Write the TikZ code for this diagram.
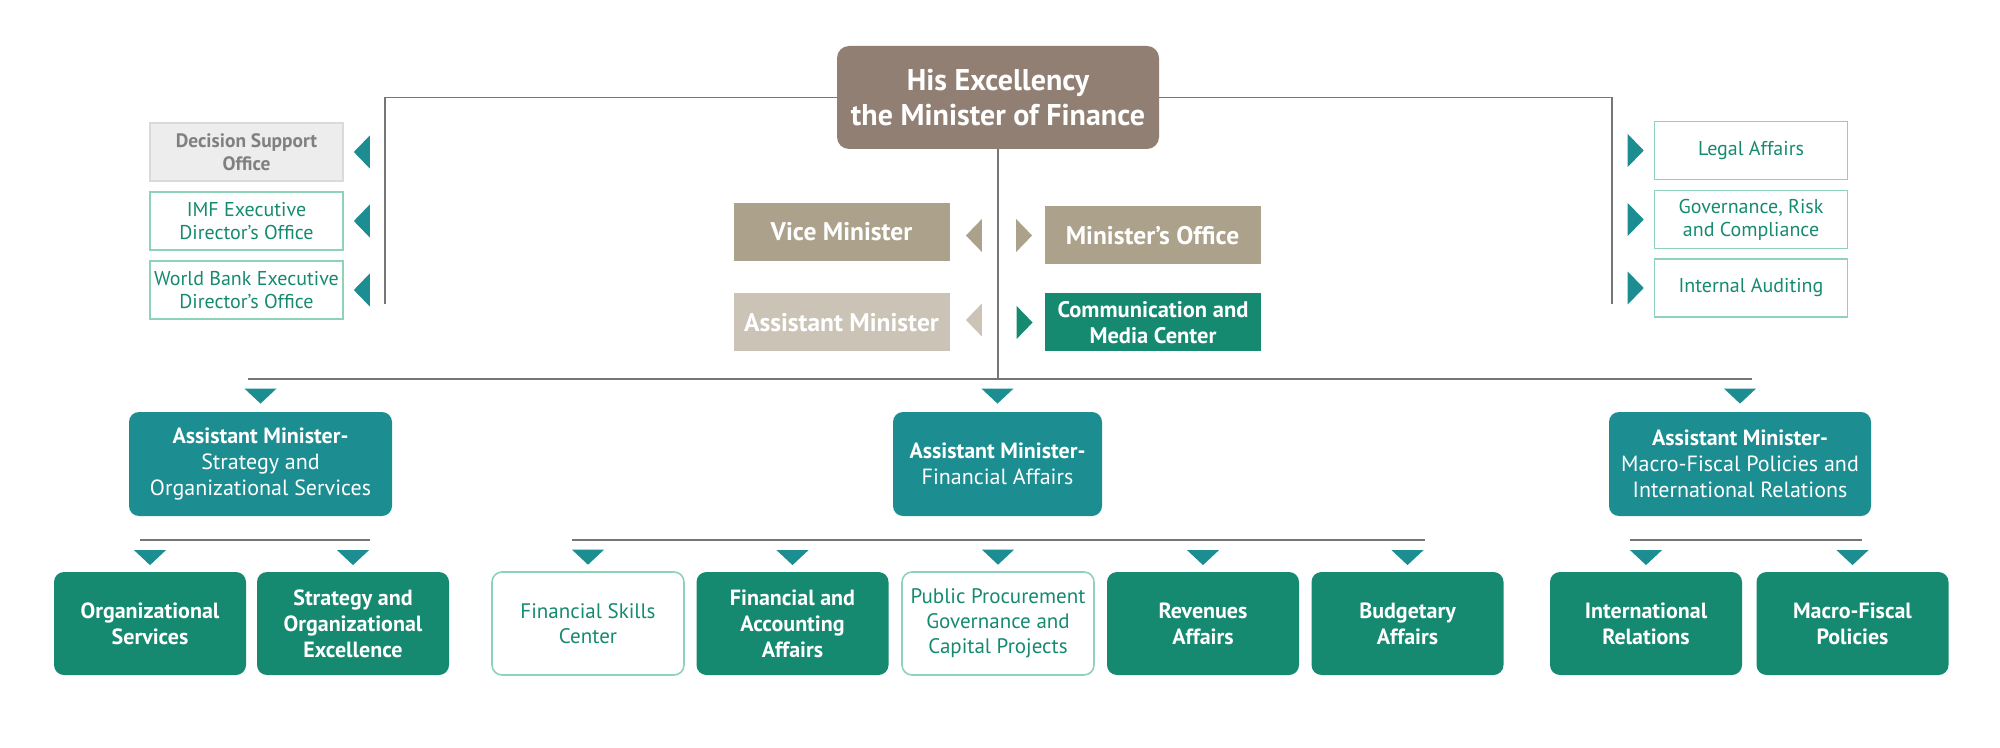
\documentclass[tikz,border=0pt]{standalone}
\usepackage{fontspec}
\setmainfont{PT Sans}
\usetikzlibrary{positioning,calc}
\definecolor{MOF-BROWN}{RGB}{146,127,115}
\definecolor{MOF-TAUPE}{RGB}{172,161,138}
\definecolor{MOF-SAND}{RGB}{203,195,181}
\definecolor{MOF-GREEN}{RGB}{22,138,112}
\definecolor{MOF-TEAL}{RGB}{28,142,146}
\definecolor{MOF-MINT}{RGB}{142,211,184}
\definecolor{MOF-GREY}{RGB}{237,237,237}
\definecolor{MOF-LINE}{RGB}{118,118,118}

\begin{document}
\begin{tikzpicture}[x=0.5pt,y=-0.5pt,
  every node/.style={inner sep=0pt, align=center},
  link/.style={draw=MOF-LINE, line width=0.9pt},
  boss/.style={rectangle, rounded corners=6pt, fill=MOF-BROWN, text=white,
    font=\fontsize{15}{17.5}\selectfont\bfseries, minimum width=161pt, minimum height=51.5pt},
  deputy/.style={rectangle, text=white, font=\fontsize{12.75}{14}\selectfont\bfseries,
    minimum width=108pt, minimum height=29pt},
  office/.style={rectangle, draw=MOF-MINT, line width=0.8pt, text=MOF-GREEN,
    font=\fontsize{10}{11.5}\selectfont, minimum width=96.5pt, minimum height=29pt},
  greyoffice/.style={office, fill=MOF-GREY, draw=MOF-GREY!92!black, text=black!50,
    font=\fontsize{9.7}{11.5}\selectfont\bfseries},
  head/.style={rectangle, rounded corners=5pt, fill=MOF-TEAL, text=white,
    font=\fontsize{11}{13}\selectfont, minimum height=52pt},
  unit/.style={rectangle, rounded corners=5pt, fill=MOF-GREEN, text=white,
    font=\fontsize{11}{13}\selectfont\bfseries, minimum width=96pt, minimum height=51.5pt},
  unitline/.style={unit, fill=white, draw=MOF-MINT, line width=0.8pt, text=MOF-GREEN,
    font=\fontsize{10.5}{12.5}\selectfont},
  tridown/.pic={\fill (-16,-7.5) -- (16,-7.5) -- (0,7.5) -- cycle;},
  trileft/.pic={\fill (-8,0) -- (8,-16.5) -- (8,16.5) -- cycle;},
  triright/.pic={\fill (8,0) -- (-8,-16.5) -- (-8,16.5) -- cycle;}]
  \useasboundingbox (0,0) rectangle (2000,748);

  % The Minister
  \node[boss] (minister) at (998,97.5) {His Excellency\\the Minister of Finance};

  % Offices on the left
  \node[greyoffice] (dso) at (246.5,152) {Decision Support\\Office};
  \node[office] (imf) at (246.5,221) {IMF Executive\\Director's Office};
  \node[office] (wb) at (246.5,290) {World Bank Executive\\Director's Office};
  \foreach \b in {dso,imf,wb}
    \pic[MOF-TEAL] at ([xshift=9pt]\b.east) {trileft};

  % Offices on the right
  \node[office] (legal) at (1751,150.5) {Legal Affairs};
  \node[office] (grc) at (1751,219.5) {Governance, Risk\\and Compliance};
  \node[office] (audit) at (1751,288) {Internal Auditing};
  \foreach \b in {legal,grc,audit}
    \pic[MOF-TEAL] at ([xshift=-9pt]\b.west) {triright};

  % Lines from the Minister
  \coordinate (lt-end) at (385,304);
  \coordinate (rt-end) at (1612,304);
  \coordinate (bus-c) at (998,379);
  \coordinate (bus-l) at (248,379);
  \coordinate (bus-r) at (1752,379);
  \draw[link] (minister.west) -| (lt-end);
  \draw[link] (minister.east) -| (rt-end);
  \draw[link] (minister.south) -- (bus-c);
  \draw[link] (bus-l) -- (bus-r);

  % Deputies beside the centre line
  \node[deputy, fill=MOF-TAUPE] (vice) at (841.5,232) {Vice Minister};
  \node[deputy, fill=MOF-SAND] (asst) at (841.5,322.5) {Assistant Minister};
  \node[deputy, fill=MOF-TAUPE] (moffice) at (1152.5,235.5) {Minister’s Office};
  \node[deputy, fill=MOF-GREEN, font=\fontsize{11.25}{13}\selectfont\bfseries] (media)
    at (1153,322.5) {Communication and\\Media Center};
  \pic[MOF-TAUPE] at ([xshift=12pt,yshift=-1.75pt]vice.east) {trileft};
  \pic[MOF-SAND] at ([xshift=12pt,yshift=1.25pt]asst.east) {trileft};
  \pic[MOF-TAUPE] at ([xshift=-10pt]moffice.west) {triright};
  \pic[MOF-GREEN] at ([xshift=-10pt]media.west) {triright};

  % Assistant Ministers
  \node[head, minimum width=131.5pt] (am-sos) at (260.5,464)
    {\textbf{Assistant Minister-}\\Strategy and\\Organizational Services};
  \node[head, minimum width=104.5pt] (am-fin) at (997.5,464)
    {\textbf{Assistant Minister-}\\Financial Affairs};
  \node[head, minimum width=131pt] (am-mfp) at (1740,464)
    {\textbf{Assistant Minister-}\\Macro-Fiscal Policies and\\International Relations};
  \foreach \b in {am-sos,am-fin,am-mfp}
    \pic[MOF-TEAL] at ([yshift=7.75pt]\b.north) {tridown};

  % Units
  \node[unit] (orgserv) at (150,623.5) {Organizational\\Services};
  \node[unit] (strat) at (353,623.5) {Strategy and\\Organizational\\Excellence};
  \node[unitline] (skills) at (588,623.5) {Financial Skills\\Center};
  \node[unit] (account) at (792.5,623.5) {Financial and\\Accounting\\Affairs};
  \node[unitline] (procure) at (998,623.5) {Public Procurement\\Governance and\\Capital Projects};
  \node[unit] (revenue) at (1203,623.5) {Revenues\\Affairs};
  \node[unit] (budget) at (1407.5,623.5) {Budgetary\\Affairs};
  \node[unit] (intrel) at (1646,623.5) {International\\Relations};
  \node[unit] (macro) at (1852.5,623.5) {Macro-Fiscal\\Policies};
  \foreach \b in {orgserv,strat,skills,account,procure,revenue,budget,intrel,macro}
    \pic[MOF-TEAL] at ([yshift=7pt]\b.north) {tridown};

  % Lines above the units
  \coordinate (sos-l) at (140,540);
  \coordinate (sos-r) at (370,540);
  \coordinate (fin-l) at (572,540);
  \coordinate (fin-r) at (1425,540);
  \coordinate (mfp-l) at (1630,540);
  \coordinate (mfp-r) at (1862,540);
  \draw[link] (sos-l) -- (sos-r);
  \draw[link] (fin-l) -- (fin-r);
  \draw[link] (mfp-l) -- (mfp-r);
\end{tikzpicture}
\end{document}
